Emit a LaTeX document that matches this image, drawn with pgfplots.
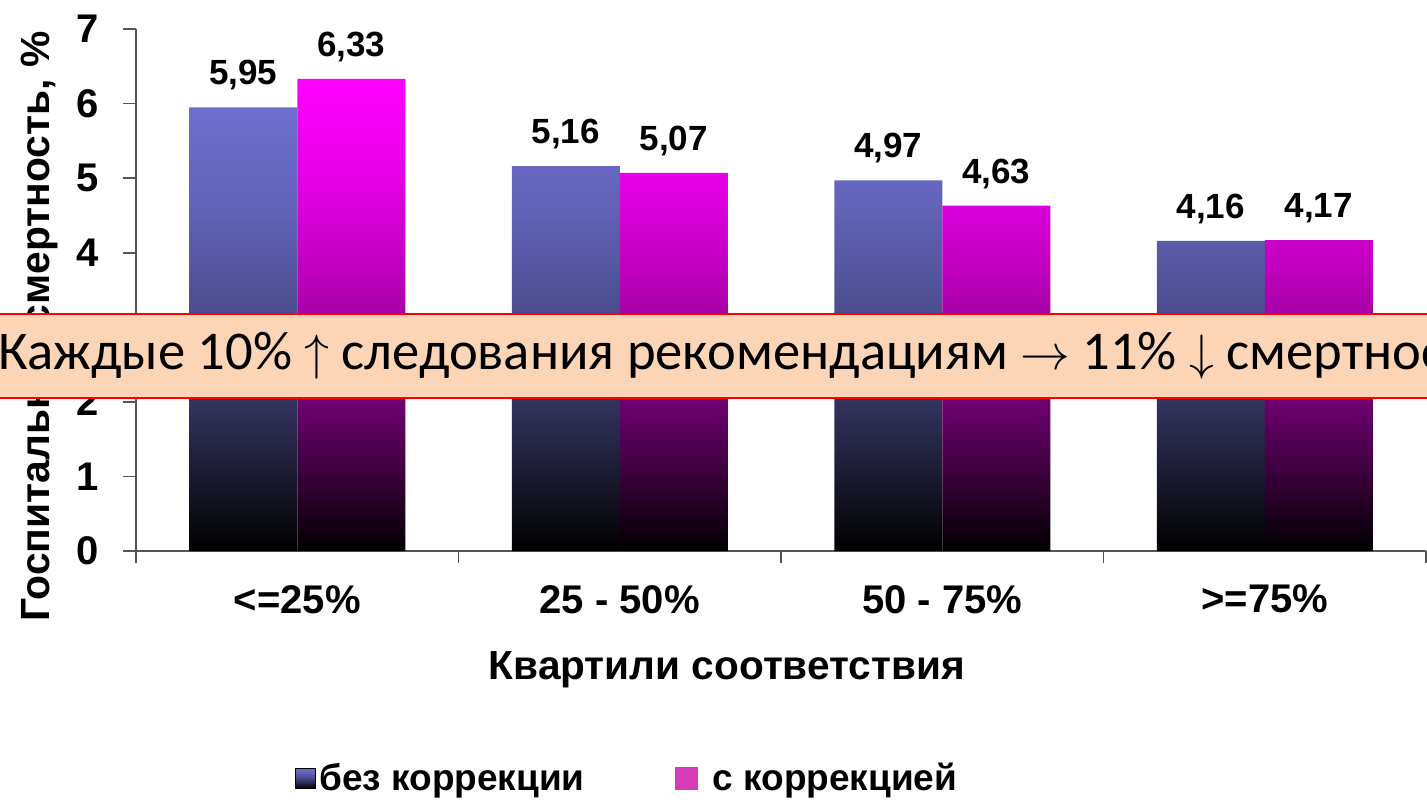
\documentclass[border=0pt]{standalone}
\usepackage{pgfplots}
\pgfplotsset{compat=1.18}
\usepackage{fontspec}
\setmainfont{Liberation Sans}
\newfontfamily\bannerfont{Carlito}

\definecolor{barblue}{HTML}{6E6ECE}
\definecolor{barmag}{HTML}{FF00FF}
\definecolor{legmag}{HTML}{D63CB8}
\definecolor{bannerfill}{HTML}{FBD5B5}
\definecolor{axisgray}{HTML}{555555}

% bar colour fading to black towards the base
\colorlet{bA}{barblue!91!black}\colorlet{bB}{barblue!75!black}
\colorlet{bC}{barblue!54!black}\colorlet{bD}{barblue!28!black}
\colorlet{mA}{barmag!91!black}\colorlet{mB}{barmag!75!black}
\colorlet{mC}{barmag!54!black}\colorlet{mD}{barmag!28!black}
\pgfdeclareverticalshading{blueshade}{100bp}{color(0bp)=(black); color(25bp)=(black);
  color(35bp)=(bD); color(45bp)=(bC); color(55bp)=(bB); color(65bp)=(bA);
  color(75bp)=(barblue); color(100bp)=(barblue)}
\pgfdeclareverticalshading{magshade}{100bp}{color(0bp)=(black); color(25bp)=(black);
  color(35bp)=(mD); color(45bp)=(mC); color(55bp)=(mB); color(65bp)=(mA);
  color(75bp)=(barmag); color(100bp)=(barmag)}

\pgfplotstableread{
x  plain  corrected
0  5.95   6.33
1  5.16   5.07
2  4.97   4.63
3  4.16   4.17
}\mortality

\begin{document}
\begin{tikzpicture}
\begin{axis}[
  scale only axis,
  width=645pt, height=261pt,
  xmin=-0.5, xmax=3.5, ymin=0, ymax=7,
  axis x line*=bottom, axis y line*=left,
  axis line style={axisgray, line width=0.8pt},
  tick style={axisgray, line width=0.8pt},
  tick align=outside,
  major tick length=6.5pt, minor tick length=6pt,
  ybar, bar width=54pt,
  ytick={0,1,...,7},
  xtick={0,1,2,3},
  xticklabels={{<=25\%},{25 - 50\%},{50 - 75\%},{>=75\%}},
  minor xtick={-0.5,0.5,1.5,2.5,3.5},
  major x tick style={draw=none},
  /pgf/number format/assume math mode=true,
  yticklabel style={font=\bfseries\fontsize{20}{22}\selectfont, xshift=-8.5pt},
  xticklabel style={font=\bfseries\fontsize{20}{22}\selectfont, yshift=-7pt},
  ylabel={Госпитальная смертность,  \%},
  xlabel={Квартили соответствия},
  every axis y label/.style={at={(axis description cs:-0.0745,0.43)}, rotate=90, anchor=center,
    font=\bfseries\fontsize{20.4}{22}\selectfont},
  every axis x label/.style={at={(axis description cs:0.458,-0.228)}, anchor=center,
    font=\bfseries\fontsize{20.3}{22}\selectfont},
  nodes near coords={\pgfmathprintnumber[fixed,fixed zerofill,precision=2,use comma]{\pgfplotspointmeta}},
  every node near coord/.append style={text=black, font=\bfseries\fontsize{17.5}{19}\selectfont, yshift=5pt},
  legend columns=2,
  legend style={draw=none, fill=none, inner sep=0pt,
    at={(axis description cs:0.1233,-0.435)}, anchor=west,
    font=\bfseries\fontsize{18.5}{20}\selectfont,
    nodes={inner xsep=1.5pt},
    /tikz/every odd column/.append style={column sep=0pt},
    /tikz/every even column/.append style={column sep=42pt}},
  clip=false,
]
\addplot[draw=none, shading=blueshade, bar shift=-27pt, forget plot] table[x=x, y=plain] {\mortality};
\addplot[draw=none, shading=magshade, bar shift=27pt, forget plot] table[x=x, y=corrected] {\mortality};

\addlegendimage{legend image code/.code={\shade[shading=blueshade] (0pt,-5pt) rectangle (10pt,5pt);}}
\addlegendentry{без коррекции}
\addlegendimage{legend image code/.code={\fill[legmag] (2pt,-5.5pt) rectangle (13pt,5.5pt); \path[draw=none] (0pt,0pt) -- (19pt,0pt);}}
\addlegendentry{с коррекцией}

\coordinate (pTL) at (axis cs:-0.9217,7.389);
\coordinate (pBR) at (axis cs:3.503,-3.326);
\coordinate (bTL) at (axis cs:-1.0,3.178);
\coordinate (bBR) at (axis cs:3.6,2.052);
\coordinate (bTxt) at (axis cs:-0.928,2.615);
\end{axis}

% banner laid over the chart
\draw[red, line width=1.2pt, fill=bannerfill] (bTL) rectangle (bBR);
\node[anchor=west, inner sep=0pt, font=\bannerfont\fontsize{27.3}{30}\selectfont] at (bTxt)
  {Каждые 10\% $\uparrow$ следования рекомендациям $\rightarrow$ 11\% $\downarrow$ смертность};

\pgfresetboundingbox
\path[use as bounding box] (pTL) rectangle (pBR);
\end{tikzpicture}
\end{document}
